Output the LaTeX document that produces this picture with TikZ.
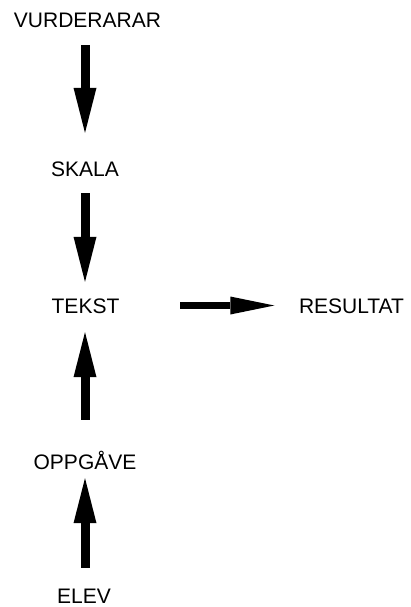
\documentclass[tikz,border=0pt]{standalone}
\usepackage{fontspec}
\setmainfont{Liberation Sans}
\usetikzlibrary{arrows.meta}
\tikzset{
  word/.style={inner sep=0pt,text height=15pt,text depth=0pt,font=\fontsize{21pt}{25pt}\selectfont},
  bigarrow/.style={line width=9pt,-{Triangle[width=23pt,length=45pt,line width=0pt]}},
  sidearrow/.style={line width=7pt,-{Triangle[width=18pt,length=44pt,line width=0pt]}}
}
\begin{document}
\begin{tikzpicture}[x=1pt,y=-1pt]
  \useasboundingbox (0,0) rectangle (411,607);
  \node[word] (vurd) at (87.5,20) {VURDERARAR};
  \node[word] (skala) at (85,169) {SKALA};
  \node[word] (tekst) at (85.5,305.5) {TEKST};
  \node[word] (result) at (351.5,305.5) {RESULTAT};
  \node[word] (oppg) at (85,462) {OPPGÅVE};
  \node[word] (elev) at (84,596) {ELEV};
  \draw[bigarrow,shorten <=17.5pt,shorten >=28.5pt] (vurd.south -| skala) -- (skala.north);
  \draw[bigarrow,shorten <=16.5pt,shorten >=16pt] (skala.south) -- (tekst.north -| skala);
  \draw[bigarrow,shorten <=34.5pt,shorten >=19pt] (oppg.north) -- (tekst.south -| oppg);
  \draw[bigarrow,shorten <=20.5pt,shorten >=8.5pt] (elev.north -| oppg) -- (oppg.south);
  \draw[sidearrow,shorten <=60.5pt,shorten >=24.5pt] (tekst.east) -- (result.west);
\end{tikzpicture}
\end{document}
